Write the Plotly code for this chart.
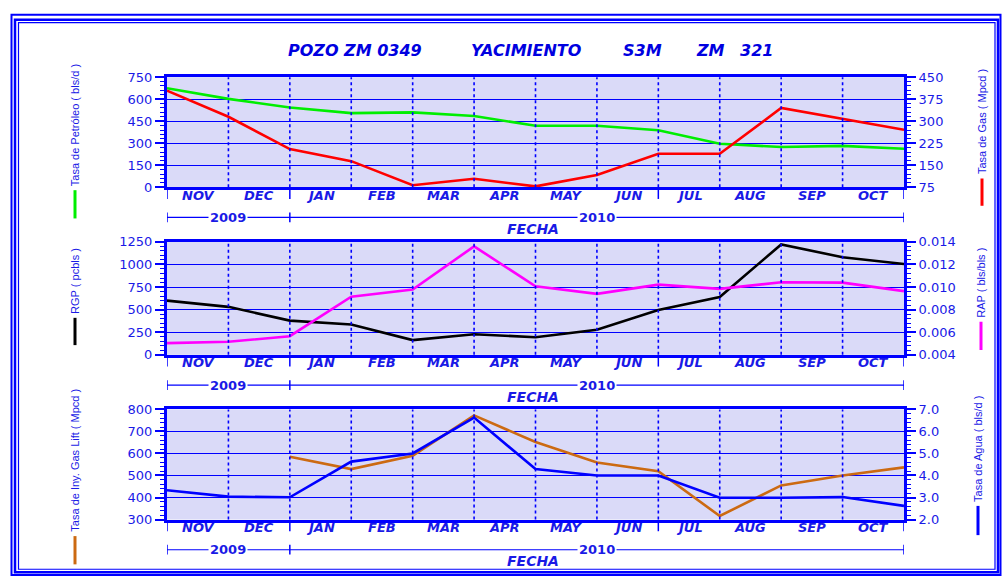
import plotly.graph_objects as go

# ---- data -------------------------------------------------------------
meses = ["NOV", "DEC", "JAN", "FEB", "MAR", "APR", "MAY", "JUN", "JUL", "AUG", "SEP", "OCT"]
anios = ["2009", "2010"]
# monthly readings at each month boundary (Nov-2009 ... Nov-2010)
petroleo = [675, 602, 543, 505, 510, 485, 419, 419, 388, 296, 274, 282, 262]
gas = [404, 315, 205, 164, 82, 104, 78, 117, 189, 189, 345, 308, 271]
rgp = [600, 531, 379, 336, 163, 228, 195, 278, 495, 640, 1221, 1080, 1004]
rap = [0.00504, 0.00516, 0.00565, 0.00914, 0.00978, 0.01360, 0.01007,
       0.00940, 0.01021, 0.00984, 0.01042, 0.01039, 0.00964]
gas_lift = [None, None, 585, 529, 590, 773, 652, 559, 519, 316, 455, 500, 537]
agua = [3.33, 3.04, 3.01, 4.63, 5.00, 6.63, 4.29, 4.00, 4.00, 2.99, 2.99, 3.02, 2.62]

W, H = 1002, 586
BLUE = "#0000ff"
TXT = "#1a1ae6"
BG = "#dadaf8"
FONT = "DejaVu Sans"

def px(x):
    return x / W

def py(y):
    return 1 - y / H

xs = list(range(len(petroleo)))
x_dom = [px(167), px(904)]
panels = [(72, 185), (241, 357), (413, 526)]

fig = go.Figure()

def add(xa, ya, y, color, name):
    fig.add_trace(go.Scatter(x=xs, y=y, xaxis=xa, yaxis=ya, mode="lines",
                             line=dict(color=color, width=2.6), name=name,
                             connectgaps=False, showlegend=False))

add("x", "y", petroleo, "#00ee00", "Petróleo")
add("x", "y2", gas, "#ff0000", "Gas")
add("x2", "y3", rgp, "#000000", "RGP")
add("x2", "y4", rap, "#ff00ff", "RAP")
add("x3", "y5", gas_lift, "#cc6a12", "Gas Lift")
add("x3", "y6", agua, "#0000ff", "Agua")

tickfont = dict(family=FONT, size=13, color=TXT)
monthfont = dict(family=FONT, size=13, color=TXT, weight="bold", style="italic")

def xaxis_cfg(anchor):
    return dict(domain=x_dom, anchor=anchor, range=[0, 12], showgrid=False, zeroline=False,
                showticklabels=False, ticks="", showline=True, linecolor=BLUE, linewidth=3,
                mirror=True, fixedrange=True)

def yaxis_cfg(dom, rng, dtick, minor, fmt=None, side="left", overlay=None, anchor=None):
    d = dict(domain=dom, range=rng, dtick=dtick, tick0=rng[0], side=side, zeroline=False,
             showline=True, linecolor=BLUE, linewidth=3, ticks="outside", ticklen=9,
             tickcolor=BLUE, tickwidth=1.5, tickfont=tickfont,
             minor=dict(ticks="outside", ticklen=4, dtick=minor, tickcolor=BLUE, tickwidth=1,
                        showgrid=False),
             showgrid=(side == "left"), gridcolor=BLUE, gridwidth=1, fixedrange=True)
    if fmt:
        d["tickformat"] = fmt
    if overlay:
        d["overlaying"] = overlay
    if anchor:
        d["anchor"] = anchor
    return d

doms = [[py(b), py(t)] for t, b in panels]

fig.update_layout(
    width=W, height=H, autosize=False,
    margin=dict(l=0, r=0, t=0, b=0, pad=0),
    paper_bgcolor="white", plot_bgcolor=BG,
    xaxis=xaxis_cfg("y"), xaxis2=xaxis_cfg("y3"), xaxis3=xaxis_cfg("y5"),
    yaxis=yaxis_cfg(doms[0], [0, 750], 150, 30, anchor="x"),
    yaxis2=yaxis_cfg(doms[0], [75, 450], 75, 15, side="right", overlay="y", anchor="x"),
    yaxis3=yaxis_cfg(doms[1], [0, 1250], 250, 50, anchor="x2"),
    yaxis4=yaxis_cfg(doms[1], [0.004, 0.014], 0.002, 0.0004, fmt=".3f", side="right",
                     overlay="y3", anchor="x2"),
    yaxis5=yaxis_cfg(doms[2], [300, 800], 100, 20, anchor="x3"),
    yaxis6=yaxis_cfg(doms[2], [2, 7], 1, 0.2, fmt=".1f", side="right", overlay="y5",
                     anchor="x3"),
)

shapes = []
annotations = []

def note(text, x, y, font, xref="paper", yref="paper", xanchor="center", yanchor="middle",
         **kw):
    annotations.append(dict(xref=xref, yref=yref, x=x, y=y, text=text, showarrow=False,
                            xanchor=xanchor, yanchor=yanchor, font=font, **kw))

# month labels, dotted month separators, ticks under the axis, year bar and FECHA label
for i, (xr, yr, (top, bot)) in enumerate(zip(["x", "x2", "x3"], ["y", "y3", "y5"], panels)):
    for m, name in enumerate(meses):
        note(name, m + 0.5, py(bot + 8), monthfont, xref=xr)
    for m in range(1, 12):
        shapes.append(dict(type="line", xref=xr, yref=yr + " domain", x0=m, x1=m, y0=0, y1=1,
                           line=dict(color=BLUE, width=1.6, dash="dot"), layer="above"))
    for m in [0, 2, 8, 12]:
        shapes.append(dict(type="line", xref=xr, yref="paper", x0=m, x1=m,
                           y0=py(bot + 1), y1=py(bot + 12), line=dict(color=BLUE, width=1.5)))
    yb = bot + 31
    shapes.append(dict(type="line", xref=xr, yref="paper", x0=0, x1=12, y0=py(yb), y1=py(yb),
                       line=dict(color=BLUE, width=1.2)))
    for m in [0, 2, 12]:
        shapes.append(dict(type="line", xref=xr, yref="paper", x0=m, x1=m,
                           y0=py(yb - 5), y1=py(yb + 5), line=dict(color=BLUE, width=1.5)))
    for label, xc in zip(anios, [1, 7]):
        note(label, xc, py(yb), dict(family=FONT, size=13, color=TXT, weight="bold"),
             xref=xr, bgcolor="white", borderpad=1)
    note("FECHA", px(533), py(yb + 12),
         dict(family=FONT, size=14, color=TXT, weight="bold", style="italic"))

# axis titles with colour keys (text sits just above its key)
side_titles = [
    ("Tasa de Petróleo ( bls/d )", 75, "#00ee00", 188, 217),
    ("Tasa de Gas ( Mpcd )", 982, "#ff0000", 176, 204),
    ("RGP ( pcbls )", 75, "#000000", 319, 347),
    ("RAP ( bls/bls )", 981, "#ff00ff", 323, 352),
    ("Tasa de Iny. Gas Lift ( Mpcd )", 75, "#cc6a12", 543, 572),
    ("Tasa de Agua ( bls/d )", 978, "#0000ff", 512, 542),
]
for text, x, color, y0, y1 in side_titles:
    note(text, px(x), py(y0 - 2),
         dict(family="Liberation Sans Narrow, Liberation Sans", size=11, color=TXT),
         yanchor="bottom", textangle=-90)
    shapes.append(dict(type="line", xref="paper", yref="paper", x0=px(x), x1=px(x),
                       y0=py(y0), y1=py(y1), line=dict(color=color, width=3)))

# title
for text, xc in [("POZO ZM 0349", 355), ("YACIMIENTO", 526), ("S3M", 642), ("ZM", 710),
                 ("321", 756)]:
    note(text, px(xc), py(45),
         dict(family=FONT, size=16, color="#0000e0", weight="bold", style="italic"))

# page frame
for (l, t, r, b), w in [((11.5, 8, 1000.5, 583), 2), ((15, 13, 998, 580), 2.5),
                        ((18.5, 16, 995, 577), 1.2)]:
    shapes.append(dict(type="rect", xref="paper", yref="paper", x0=px(l), x1=px(r),
                       y0=py(b), y1=py(t), line=dict(color=BLUE, width=w)))

fig.update_layout(shapes=shapes, annotations=annotations)
fig.write_html("out.html")
